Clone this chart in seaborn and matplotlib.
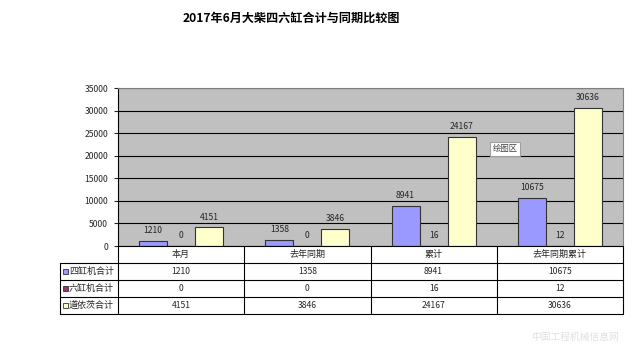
import matplotlib
matplotlib.use("Agg")
import matplotlib.pyplot as plt
import pandas as pd
import seaborn as sns
from matplotlib.patches import Rectangle

# ========== DATA ==========
categories = ["本月", "去年同期", "累计", "去年同期累计"]
series_names = ["四缸机合计", "六缸机合计", "道依茨合计"]
four_cyl = [1210, 1358, 8941, 10675]
six_cyl = [0, 0, 16, 12]
deutz = [4151, 3846, 24167, 30636]
series_colors = ["#9999FF", "#993366", "#FFFFCC"]
title = "2017年6月大柴四六缸合计与同期比较图"

sns.set_style("white")
plt.rcParams['font.family'] = ['Noto Sans CJK SC', 'DejaVu Sans']

df = pd.DataFrame({
    "category": categories * 3,
    "series": [s for s in series_names for _ in categories],
    "value": four_cyl + six_cyl + deutz,
})

W, H = 640, 356
fig = plt.figure(figsize=(6.4, 3.56), dpi=100)

# plot area (pixel coords from the reference)
px_l, px_r, px_t, px_b = 118, 623, 88, 246
ax = fig.add_axes([px_l / W, 1 - px_b / H, (px_r - px_l) / W, (px_b - px_t) / H])
ax.set_facecolor("#C0C0C0")

sns.barplot(data=df, x="category", y="value", hue="series", order=categories,
            hue_order=series_names, palette=series_colors, width=0.667,
            edgecolor="#333333", linewidth=0.8, saturation=1, legend=False, ax=ax)

ax.set_ylim(0, 35000)
ax.set_xlim(-0.5, 3.5)
ax.set_yticks(range(0, 35001, 5000))
ax.yaxis.grid(True, color="black", linewidth=0.8)
ax.set_axisbelow(True)
ax.set_xlabel("")
ax.set_ylabel("")
ax.set_xticks([])
ax.tick_params(axis="y", length=3, width=0.8, pad=4, labelsize=6.2, left=True, direction="out")
for side in ["top", "right"]:
    ax.spines[side].set_color("#808080")
    ax.spines[side].set_linewidth(0.8)
ax.spines["left"].set_color("black")
ax.spines["bottom"].set_visible(False)

for cont in ax.containers:
    ax.bar_label(cont, labels=[f"{int(v)}" for v in cont.datavalues], padding=4, fontsize=6.2)

# "绘图区" tooltip
fig.text(505 / W, 1 - 149 / H, "绘图区", fontsize=6, color="#404040", ha="center", va="center",
         bbox=dict(boxstyle="square,pad=0.35", facecolor="white", edgecolor="#A0A0A0", linewidth=0.8))

# ========== DATA TABLE ==========
tb_l, tb_t, tb_b = 60, 246, 314
tax = fig.add_axes([tb_l / W, 1 - tb_b / H, (px_r - tb_l) / W, (tb_b - tb_t) / H])
unit = 4 / (px_r - px_l)
x0 = -0.5 - (px_l - tb_l) * unit
tax.set_xlim(x0, 3.5)
tax.set_ylim(4, 0)
tax.axis("off")
lw = 0.8
tax.plot([-0.5, 3.5], [0, 0], color="black", lw=lw, clip_on=False)
for r in range(1, 5):
    tax.plot([x0, 3.5], [r, r], color="black", lw=lw, clip_on=False)
tax.plot([x0, x0], [1, 4], color="black", lw=lw, clip_on=False)
for i in range(5):
    tax.plot([i - 0.5, i - 0.5], [0, 4], color="black", lw=lw, clip_on=False)
for i, c in enumerate(categories):
    tax.text(i, 0.5, c, ha="center", va="center", fontsize=6.5)
for r, (name, vals, col) in enumerate(zip(series_names, [four_cyl, six_cyl, deutz], series_colors), start=1):
    tax.add_patch(Rectangle((x0 + 3 * unit, r + 0.35), 5 * unit, 0.28, facecolor=col,
                            edgecolor="#333333", lw=0.6, clip_on=False))
    tax.text(x0 + 9 * unit, r + 0.5, name, ha="left", va="center", fontsize=6.5)
    for i, v in enumerate(vals):
        tax.text(i, r + 0.5, str(v), ha="center", va="center", fontsize=6.2)

fig.text(291 / W, 1 - 18 / H, title, ha="center", va="center", fontsize=8.7, fontweight="bold",
         color="black")

# faint watermark text
fig.text(575 / W, 1 - 337 / H, "中国工程机械信息网", ha="center", va="center", fontsize=7, color="#E0E0E0")

fig.savefig("out.png", dpi=100)
